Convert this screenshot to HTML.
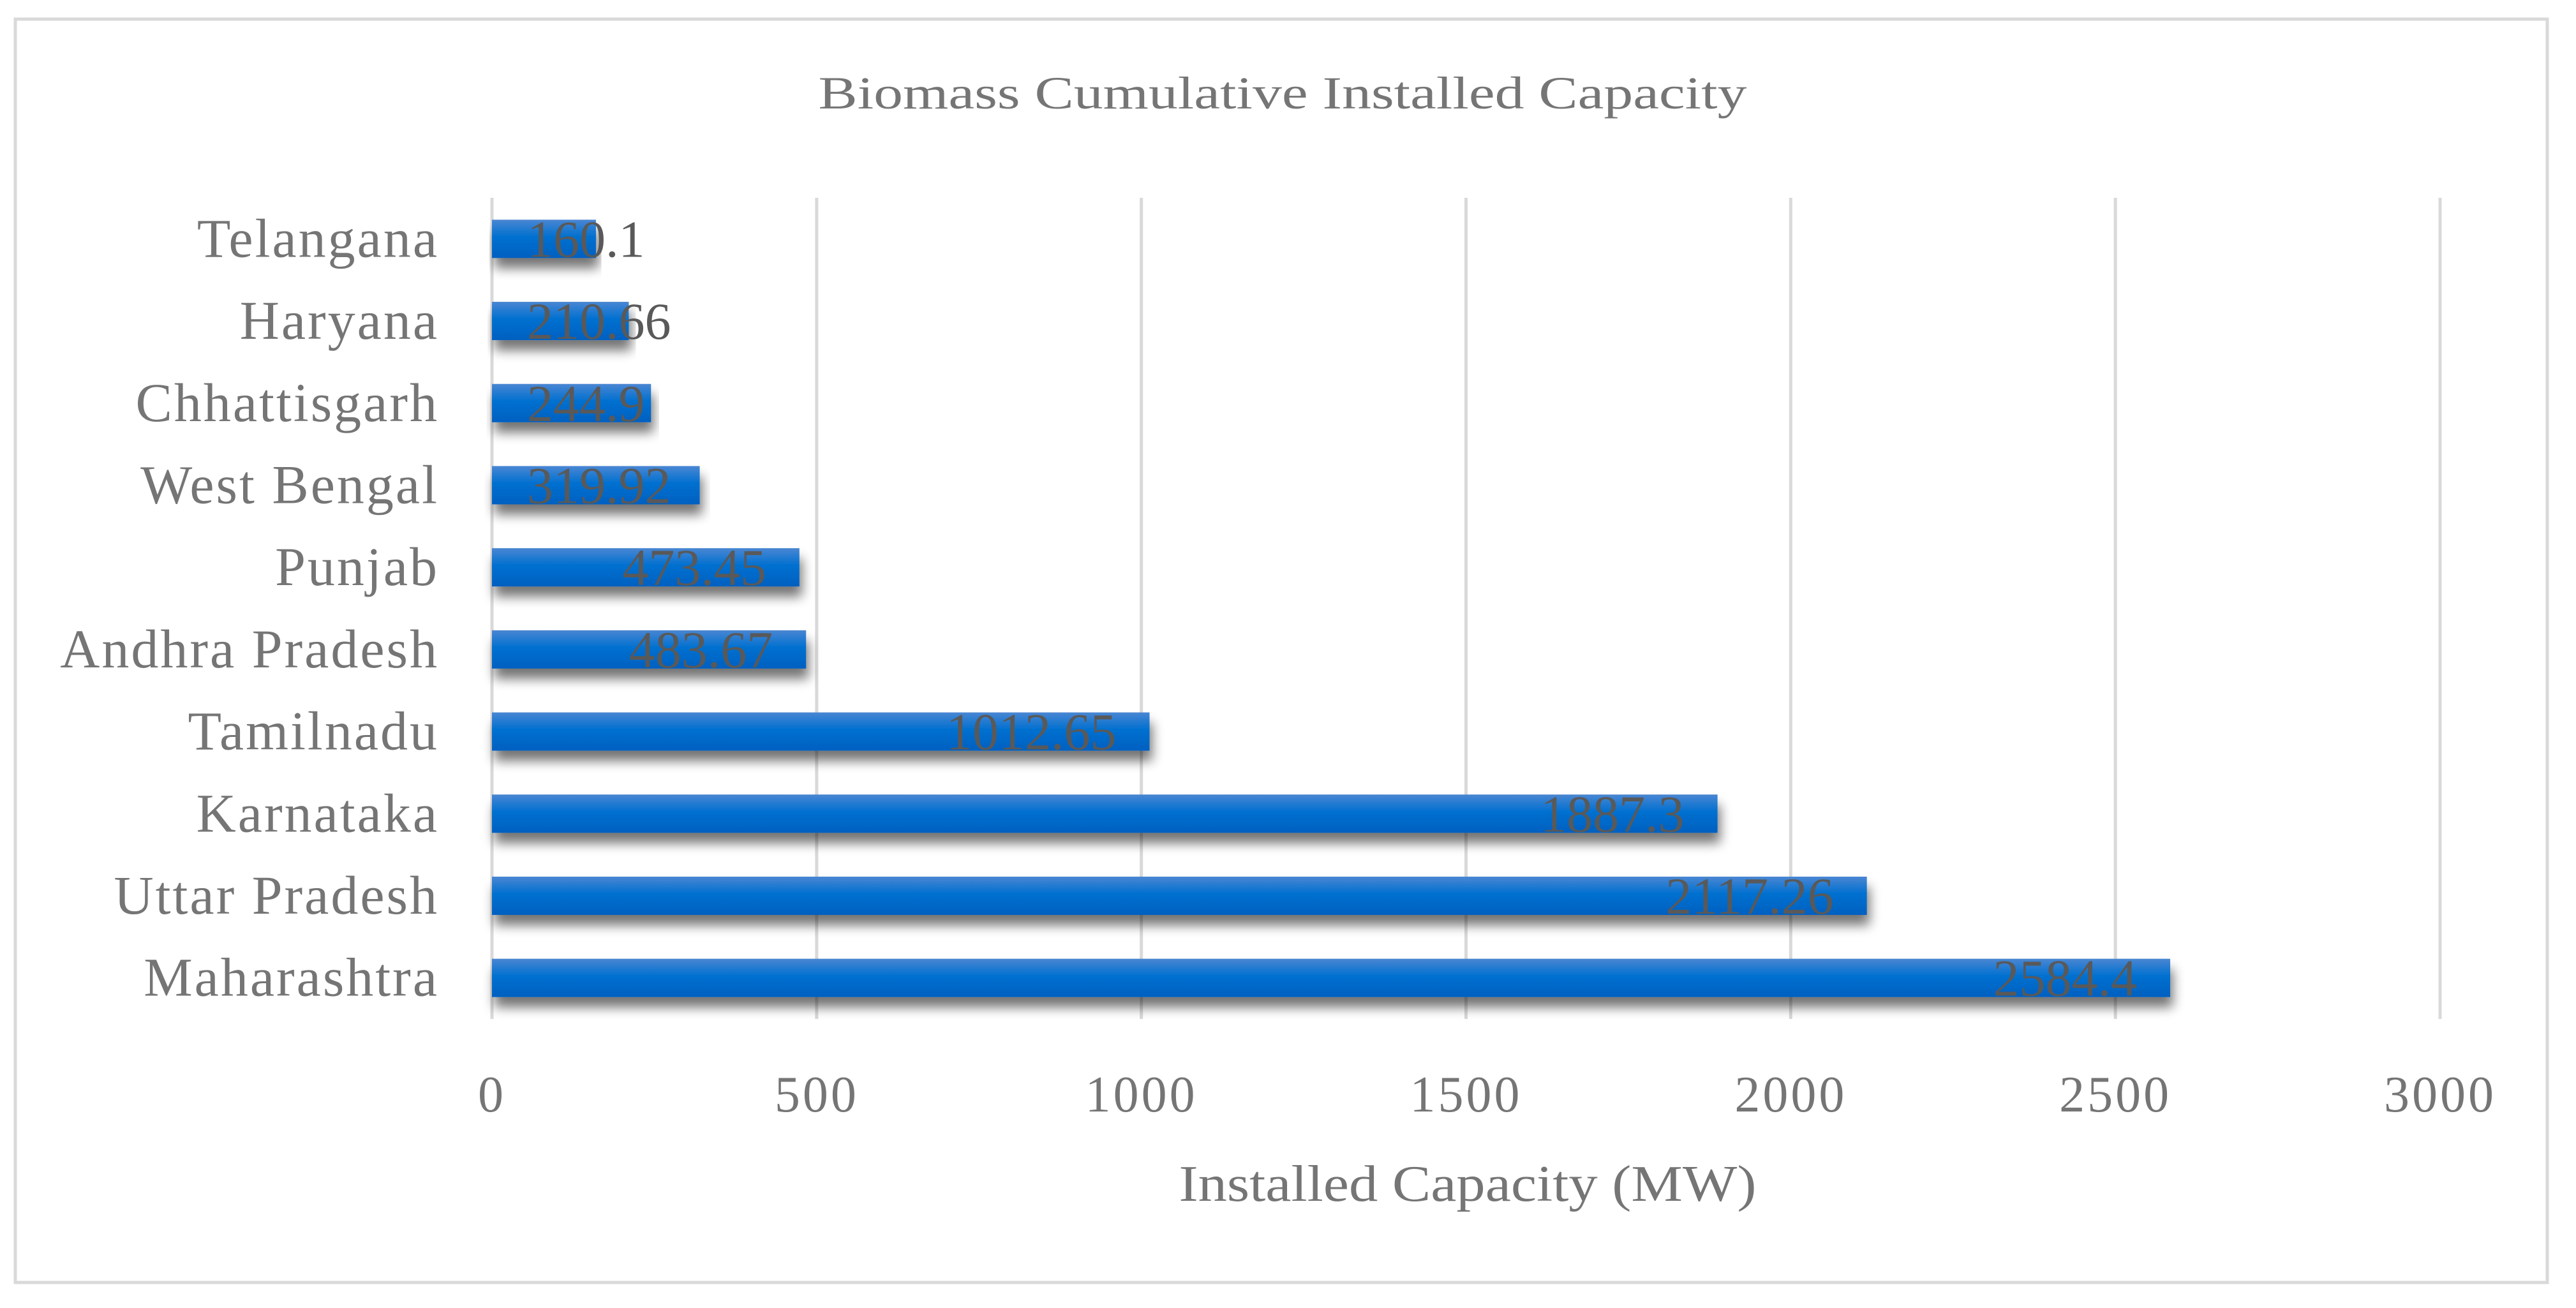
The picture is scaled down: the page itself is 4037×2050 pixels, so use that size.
<!DOCTYPE html>
<html><head><meta charset="utf-8"><style>
html,body{margin:0;padding:0;background:#fff;}
svg{display:block;}
text{font-family:"Liberation Serif",serif;}
</style></head><body>
<svg id="chart" width="4037" height="2050" viewBox="0 0 4037 2050">
<defs>
<linearGradient id="barGrad" x1="0" y1="0" x2="0" y2="1">
<stop offset="0" stop-color="#4a86d2"/>
<stop offset="0.45" stop-color="#0070d0"/>
<stop offset="1" stop-color="#0060c0"/>
</linearGradient>
<filter id="shadow" x="-5%" y="-50%" width="110%" height="250%">
<feGaussianBlur in="SourceAlpha" stdDeviation="9"/>
<feOffset dx="4" dy="16" result="b"/>
<feComponentTransfer><feFuncA type="linear" slope="0.55"/></feComponentTransfer>
<feMerge><feMergeNode/><feMergeNode in="SourceGraphic"/></feMerge>
</filter>
</defs>
<rect x="24" y="30" width="3968" height="1980" fill="#fff" stroke="#d9d9d9" stroke-width="5"/>
<text x="2010" y="170" text-anchor="middle" font-size="72" fill="#757575" textLength="1455" lengthAdjust="spacingAndGlyphs">Biomass Cumulative Installed Capacity</text>
<g id="grid"></g>
<g id="bars"></g>
<g id="cats"></g>
<g id="ticks"></g>
<text x="2300" y="1882" text-anchor="middle" font-size="80" fill="#757575" textLength="905" lengthAdjust="spacingAndGlyphs">Installed Capacity (MW)</text>
</svg>
<script>
const categories = ["Telangana","Haryana","Chhattisgarh","West Bengal","Punjab","Andhra Pradesh","Tamilnadu","Karnataka","Uttar Pradesh","Maharashtra"];
const values = [160.1,210.66,244.9,319.92,473.45,483.67,1012.65,1887.3,2117.26,2584.4];
const valueLabels = ["160.1","210.66","244.9","319.92","473.45","483.67","1012.65","1887.3","2117.26","2584.4"];
const tickValues = [0,500,1000,1500,2000,2500,3000];
const tickLabels = ["0","500","1000","1500","2000","2500","3000"];

const NS="http://www.w3.org/2000/svg";
const x0=771, x1=3824, xMax=3000, yTop=310, yBot=1597;
const band=(yBot-yTop)/categories.length, barH=60;
const xs=v=>x0+(v/xMax)*(x1-x0);
const yc=i=>yTop+band*(i+0.5);
function mk(tag,attrs,parent){const e=document.createElementNS(NS,tag);for(const k in attrs)e.setAttribute(k,attrs[k]);parent.appendChild(e);return e;}
const grid=document.getElementById('grid'),bars=document.getElementById('bars'),cats=document.getElementById('cats'),ticks=document.getElementById('ticks');
tickValues.forEach((t,i)=>{
  const l=mk('line',{x1:xs(t),x2:xs(t),y1:yTop,y2:yBot,stroke:'#d9d9d9','stroke-width':5},grid);
  
  
  const tx=mk('text',{x:xs(t),y:1742,'text-anchor':'middle','font-size':80,fill:'#757575','letter-spacing':4},ticks);
  tx.textContent=tickLabels[i];
  
  
});
categories.forEach((c,i)=>{
  const y=yc(i);
  const r=mk('rect',{x:x0,y:y-barH/2,width:xs(values[i])-x0,height:barH,fill:'url(#barGrad)',filter:'url(#shadow)'},bars);
  
  
  const lbl=mk('text',{x:0,y:y+28,'text-anchor':'end','font-size':82,fill:'#595959'},bars);
  lbl.textContent=valueLabels[i];
  
  
  const w=lbl.getComputedTextLength();
  lbl.setAttribute('x',Math.max(xs(values[i])-52,x0+55+w));
  const ct=mk('text',{x:688,y:y+28,'text-anchor':'end','font-size':86,fill:'#757575','letter-spacing':3},cats);
  ct.textContent=c;
  
  
});
</script>
</body></html>
